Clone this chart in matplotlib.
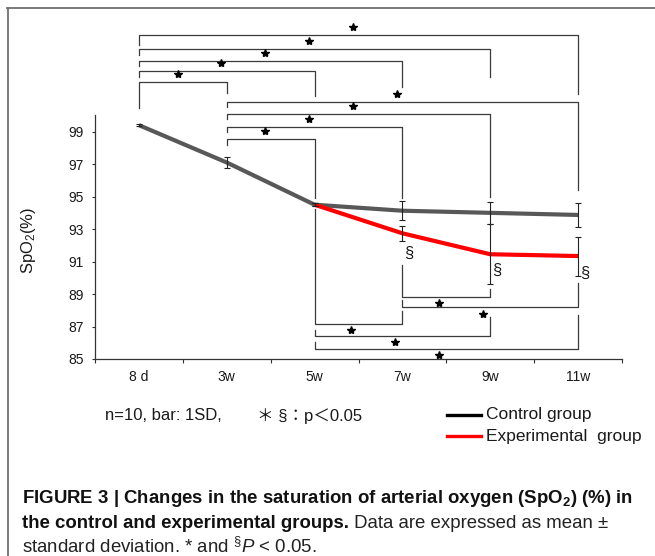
import numpy as np
import matplotlib
matplotlib.use("Agg")
import matplotlib.pyplot as plt
from matplotlib.lines import Line2D
from matplotlib import font_manager

# ---------------- data ----------------
categories = ['8 d', '3w', '5w', '7w', '9w', '11w']
control_mean = [99.4, 97.1, 94.5, 94.13, 94.0, 93.87]
control_sd = [0.05, 0.33, 0.1, 0.6, 0.68, 0.74]
exp_mean = [np.nan, np.nan, 94.5, 92.74, 91.45, 91.34]
exp_sd = [np.nan, np.nan, 0.1, 0.45, 1.85, 1.2]
yticks = [85, 87, 89, 91, 93, 95, 97, 99]

# significance brackets: (from, to, bar level, left leg end, right leg end)
upper_brackets = [
    (0, 5, 104.95, 104.33, 101.30),
    (0, 4, 104.11, 103.72, 102.35),
    (0, 3, 103.37, 103.04, 101.75),
    (0, 2, 102.72, 102.36, 101.21),
    (0, 1, 102.08, 100.46, 101.40),
    (1, 5, 100.84, 100.50, 95.40),
    (1, 4, 100.09, 99.78, 94.99),
    (1, 3, 99.30, 98.98, 94.91),
    (1, 2, 98.53, 98.18, 94.91),
]
lower_brackets = [
    (3, 4, 88.84, 90.79, 89.31),
    (3, 5, 88.18, 88.63, 89.68),
    (2, 3, 87.14, 94.24, 87.96),
    (2, 4, 86.42, 86.79, 87.60),
    (2, 5, 85.62, 86.07, 87.71),
]
section_marks = [(3, 91.5), (4, 90.48), (5, 90.28)]

names = {f.name for f in font_manager.fontManager.ttflist}
SANS = 'Liberation Sans' if 'Liberation Sans' in names else 'DejaVu Sans'
plt.rcParams['font.family'] = [SANS, 'Noto Sans CJK JP', 'DejaVu Sans']
plt.rcParams['mathtext.fontset'] = 'custom'
plt.rcParams['mathtext.rm'] = SANS
plt.rcParams['mathtext.it'] = SANS + ':italic'
plt.rcParams['mathtext.bf'] = SANS + ':bold'
plt.rcParams['mathtext.default'] = 'regular'

W, H = 655, 556
fig = plt.figure(figsize=(W / 100, H / 100), dpi=100)

def fx(px):
    return px / W

def fy(py):
    return 1 - py / H

ax = fig.add_axes([fx(95), fy(359), fx(622) - fx(95), fy(115.4) - fy(359)])
x = np.arange(len(categories))

ax.plot(x, control_mean, color='#585858', lw=3.0, solid_capstyle='butt', zorder=3)
ax.plot(x, exp_mean, color='#ff0000', lw=3.0, solid_capstyle='butt', zorder=4)
ax.errorbar(x, control_mean, yerr=control_sd, fmt='none', ecolor='#222222',
            elinewidth=0.8, capsize=2.3, capthick=0.8, zorder=5)
ax.errorbar(x, exp_mean, yerr=exp_sd, fmt='none', ecolor='#222222',
            elinewidth=0.8, capsize=2.3, capthick=0.8, zorder=5)

ax.set_xlim(-0.5, len(categories) - 0.5)
ax.set_ylim(85, 100)
ax.set_yticks(yticks)
ax.set_yticklabels([str(v) for v in yticks], fontsize=10, color='#1a1a1a')
ax.set_xticks(np.arange(-0.5, len(categories), 1.0))
ax.set_xticklabels([''] * (len(categories) + 1))
ax.set_xticks(x, minor=True)
ax.set_xticklabels(categories, minor=True, fontsize=10, color='#1a1a1a')
ax.tick_params(axis='x', which='major', direction='out', length=3, width=0.8, color='#333333')
ax.tick_params(axis='x', which='minor', length=0, pad=8)
ax.tick_params(axis='y', direction='out', length=2.2, width=0.8, color='#333333', pad=6)
for s in ['top', 'right']:
    ax.spines[s].set_visible(False)
for s in ['left', 'bottom']:
    ax.spines[s].set_color('#333333')
    ax.spines[s].set_linewidth(0.9)

ax.set_ylabel('SpO$_2$(%)', fontsize=12, color='#1a1a1a')
ax.yaxis.set_label_coords(-0.109, 0.4885)

bk = dict(color='#3a3a3a', lw=0.9, clip_on=False, zorder=2)
for a, b, yb, yl, yr in upper_brackets:
    ax.plot([a, a, b, b], [yl, yb, yb, yr], **bk)
    ax.plot([(a + b) / 2 - 0.06], [yb + 0.5], marker='*', color='black',
            markersize=6, clip_on=False, zorder=6)
for a, b, yb, yl, yr in lower_brackets:
    ax.plot([a, a, b, b], [yl, yb, yb, yr], **bk)
    ax.plot([(a + b) / 2 - 0.08], [yb - 0.38], marker='*', color='black',
            markersize=6, clip_on=False, zorder=6)
for xi, yv in section_marks:
    ax.text(xi + 0.07, yv, '§', fontsize=12, ha='center', va='center', color='#1a1a1a', zorder=6)

# notes and legend
fig.text(fx(105), fy(416), 'n=10, bar: 1SD,', fontsize=12, va='center', ha='left', color='#1a1a1a')
fig.text(fx(257), fy(416), '＊ §：p＜0.05', fontsize=12, va='center', ha='left', color='#1a1a1a',
         family=[SANS, 'Noto Sans CJK JP'])
fig.add_artist(Line2D([fx(447), fx(481)], [fy(415), fy(415)], color='black', lw=2.4))
fig.add_artist(Line2D([fx(447), fx(481)], [fy(436), fy(436)], color='#ff0000', lw=2.4))
fig.text(fx(486), fy(415), 'Control group', fontsize=12.5, va='center', ha='left', color='#1a1a1a')
fig.text(fx(486), fy(436), 'Experimental  group', fontsize=12.5, va='center', ha='left', color='#1a1a1a')

# frame
fig.add_artist(Line2D([fx(7), fx(655)], [fy(7.5), fy(7.5)], color='#707070', lw=1.3))
fig.add_artist(Line2D([fx(7.5), fx(7.5)], [fy(7.5), fy(556)], color='#707070', lw=1.3))

# caption
renderer = fig.canvas.get_renderer()

def width_px(t):
    return t.get_window_extent(renderer=renderer).width

base_fs = 12
t1 = fig.text(fx(22), fy(503), 'FIGURE 3 | Changes in the saturation of arterial oxygen (SpO$_2$) (%) in',
              fontsize=base_fs, fontweight='bold', va='baseline', color='#111111')
fs = base_fs * 610 / width_px(t1)
t1.set_fontsize(fs)

t2a = fig.text(fx(22), fy(528), 'the control and experimental groups.', fontsize=fs,
               fontweight='bold', va='baseline', color='#111111')
w2 = width_px(t2a)
fig.text(fx(22 + w2), fy(528), ' Data are expressed as mean ±', fontsize=fs,
         va='baseline', color='#222222')
fig.text(fx(22), fy(553), r'standard deviation. * and $^{\S}\mathit{P}$ < 0.05.', fontsize=fs,
         va='baseline', color='#222222')

fig.savefig('out.png', dpi=100)
